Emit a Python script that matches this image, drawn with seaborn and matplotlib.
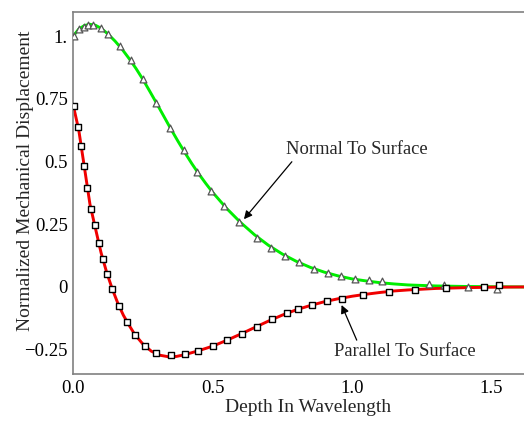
import matplotlib
matplotlib.use("Agg")
import matplotlib.pyplot as plt
import seaborn as sns
import pandas as pd

# ---- data ----
normal_line_x = [0.0, 0.02, 0.04, 0.06, 0.08, 0.10, 0.125, 0.15, 0.175, 0.20, 0.225, 0.25, 0.275,
                 0.30, 0.325, 0.35, 0.375, 0.40, 0.425, 0.45, 0.475, 0.50, 0.55, 0.60, 0.65, 0.70,
                 0.75, 0.80, 0.85, 0.90, 0.95, 1.00, 1.05, 1.10, 1.15, 1.20, 1.25, 1.30, 1.40, 1.50, 1.62]
normal_line_y = [1.000, 1.028, 1.042, 1.047, 1.043, 1.031, 1.008, 0.980, 0.948, 0.911, 0.871, 0.827, 0.779,
                 0.730, 0.680, 0.630, 0.582, 0.536, 0.492, 0.451, 0.413, 0.377, 0.313, 0.257, 0.208, 0.166,
                 0.131, 0.102, 0.078, 0.059, 0.044, 0.032, 0.024, 0.017, 0.012, 0.008, 0.006, 0.004, 0.002, 0.001, 0.000]

parallel_line_x = [0.0, 0.02, 0.04, 0.06, 0.08, 0.10, 0.12, 0.14, 0.16, 0.18, 0.20, 0.22, 0.25, 0.28,
                   0.31, 0.34, 0.37, 0.40, 0.45, 0.50, 0.55, 0.60, 0.65, 0.70, 0.75, 0.80, 0.85, 0.90,
                   0.95, 1.00, 1.05, 1.10, 1.15, 1.20, 1.30, 1.40, 1.50, 1.62]
parallel_line_y = [0.725, 0.625, 0.478, 0.330, 0.232, 0.136, 0.058, -0.008, -0.065, -0.113, -0.152, -0.188,
                   -0.228, -0.256, -0.272, -0.278, -0.277, -0.270, -0.254, -0.236, -0.213, -0.188, -0.162,
                   -0.136, -0.112, -0.091, -0.074, -0.059, -0.047, -0.037, -0.029, -0.022, -0.016, -0.012,
                   -0.006, -0.003, -0.001, 0.000]

normal_pts_x = [0.003, 0.022, 0.038, 0.054, 0.072, 0.099, 0.126, 0.167, 0.206, 0.249, 0.298, 0.348, 0.396,
                0.445, 0.495, 0.542, 0.594, 0.660, 0.710, 0.759, 0.808, 0.864, 0.912, 0.961, 1.010, 1.061,
                1.106, 1.276, 1.330, 1.417, 1.521]
normal_pts_y = [1.000, 1.029, 1.038, 1.046, 1.043, 1.031, 1.008, 0.962, 0.905, 0.828, 0.732, 0.634, 0.545,
                0.460, 0.383, 0.322, 0.260, 0.197, 0.157, 0.125, 0.098, 0.072, 0.057, 0.044, 0.032, 0.027,
                0.023, 0.012, 0.009, 0.000, -0.008]

parallel_pts_x = [0.003, 0.018, 0.027, 0.039, 0.051, 0.063, 0.077, 0.091, 0.106, 0.122, 0.140, 0.165, 0.194,
                  0.221, 0.257, 0.297, 0.352, 0.402, 0.448, 0.501, 0.550, 0.606, 0.659, 0.713, 0.767, 0.805,
                  0.856, 0.911, 0.965, 1.038, 1.132, 1.224, 1.337, 1.474, 1.527]
parallel_pts_y = [0.722, 0.637, 0.561, 0.484, 0.395, 0.310, 0.246, 0.175, 0.110, 0.052, -0.009, -0.077, -0.141,
                  -0.190, -0.235, -0.264, -0.272, -0.268, -0.255, -0.237, -0.213, -0.186, -0.158, -0.129,
                  -0.104, -0.089, -0.073, -0.057, -0.047, -0.032, -0.021, -0.013, -0.005, 0.001, 0.007]

x_ticks = [0.0, 0.5, 1.0, 1.5]
x_tick_labels = ["0.0", "0.5", "1.0", "1.5"]
y_ticks = [-0.25, 0.0, 0.25, 0.5, 0.75, 1.0]
y_tick_labels = ["\u22120.25", "0", "0.25", "0.5", "0.75", "1."]

x_label = "Depth In Wavelength"
y_label = "Normalized Mechanical Displacement"
normal_text = "Normal To Surface"
parallel_text = "Parallel To Surface"

# ---- plot ----
sns.set_style("white")
plt.rcParams["font.family"] = ["Liberation Serif", "DejaVu Serif"]

fig = plt.figure(figsize=(5.24, 4.21), dpi=100)
ax = fig.add_axes([73.2 / 524, 1 - 374 / 421, 1 - 73.2 / 524, (374 - 12) / 421])

df_nl = pd.DataFrame({"x": normal_line_x, "y": normal_line_y})
df_pl = pd.DataFrame({"x": parallel_line_x, "y": parallel_line_y})
df_np = pd.DataFrame({"x": normal_pts_x, "y": normal_pts_y})
df_pp = pd.DataFrame({"x": parallel_pts_x, "y": parallel_pts_y})

sns.lineplot(data=df_nl, x="x", y="y", ax=ax, color="#00ee00", lw=2.1, sort=False, zorder=2)
sns.lineplot(data=df_pl, x="x", y="y", ax=ax, color="#f00000", lw=2.1, sort=False, zorder=2)
sns.scatterplot(data=df_np, x="x", y="y", ax=ax, marker="^", s=24, facecolor="white",
                edgecolor="#555555", linewidth=0.9, zorder=3)
sns.scatterplot(data=df_pp, x="x", y="y", ax=ax, marker="s", s=18, facecolor="white",
                edgecolor="black", linewidth=1.0, zorder=3)

ax.set_xlim(0, 1.616)
ax.set_ylim(-0.347, 1.096)

ax.set_xticks(x_ticks)
ax.set_xticklabels(x_tick_labels)
ax.set_xticks([i / 10 for i in range(17)], minor=True)
ax.set_yticks(y_ticks)
ax.set_yticklabels(y_tick_labels)

ax.tick_params(axis="both", which="major", direction="in", length=5, width=0.8,
               color="#808080", labelsize=13.5, labelcolor="black")
ax.tick_params(axis="x", which="minor", direction="in", length=3, width=0.8, color="#808080")
ax.tick_params(axis="y", which="major", pad=4)
ax.tick_params(axis="x", which="major", pad=4)

for side in ["left", "bottom", "top"]:
    ax.spines[side].set_color("#808080")
    ax.spines[side].set_linewidth(1.2)
ax.spines["right"].set_visible(False)

ax.set_xlabel(x_label, fontsize=14)
ax.set_ylabel(y_label, fontsize=14)
ax.xaxis.set_label_coords(0.521, -0.068)
ax.yaxis.set_label_coords(-0.088, 0.535)

ax.annotate(normal_text, xy=(0.612, 0.270), xytext=(1.017, 0.546), fontsize=13.3,
            ha="center", va="center",
            arrowprops=dict(arrowstyle="-|>", color="black", lw=0.9, mutation_scale=12,
                            shrinkA=0, shrinkB=0, relpos=(0.06, 0.0)))
ax.annotate(parallel_text, xy=(0.962, -0.072), xytext=(1.189, -0.259), fontsize=13.3,
            ha="center", va="center",
            arrowprops=dict(arrowstyle="-|>", color="black", lw=0.9, mutation_scale=12,
                            shrinkA=0, shrinkB=0, relpos=(0.17, 1.0)))

fig.savefig("out.png", dpi=100)
